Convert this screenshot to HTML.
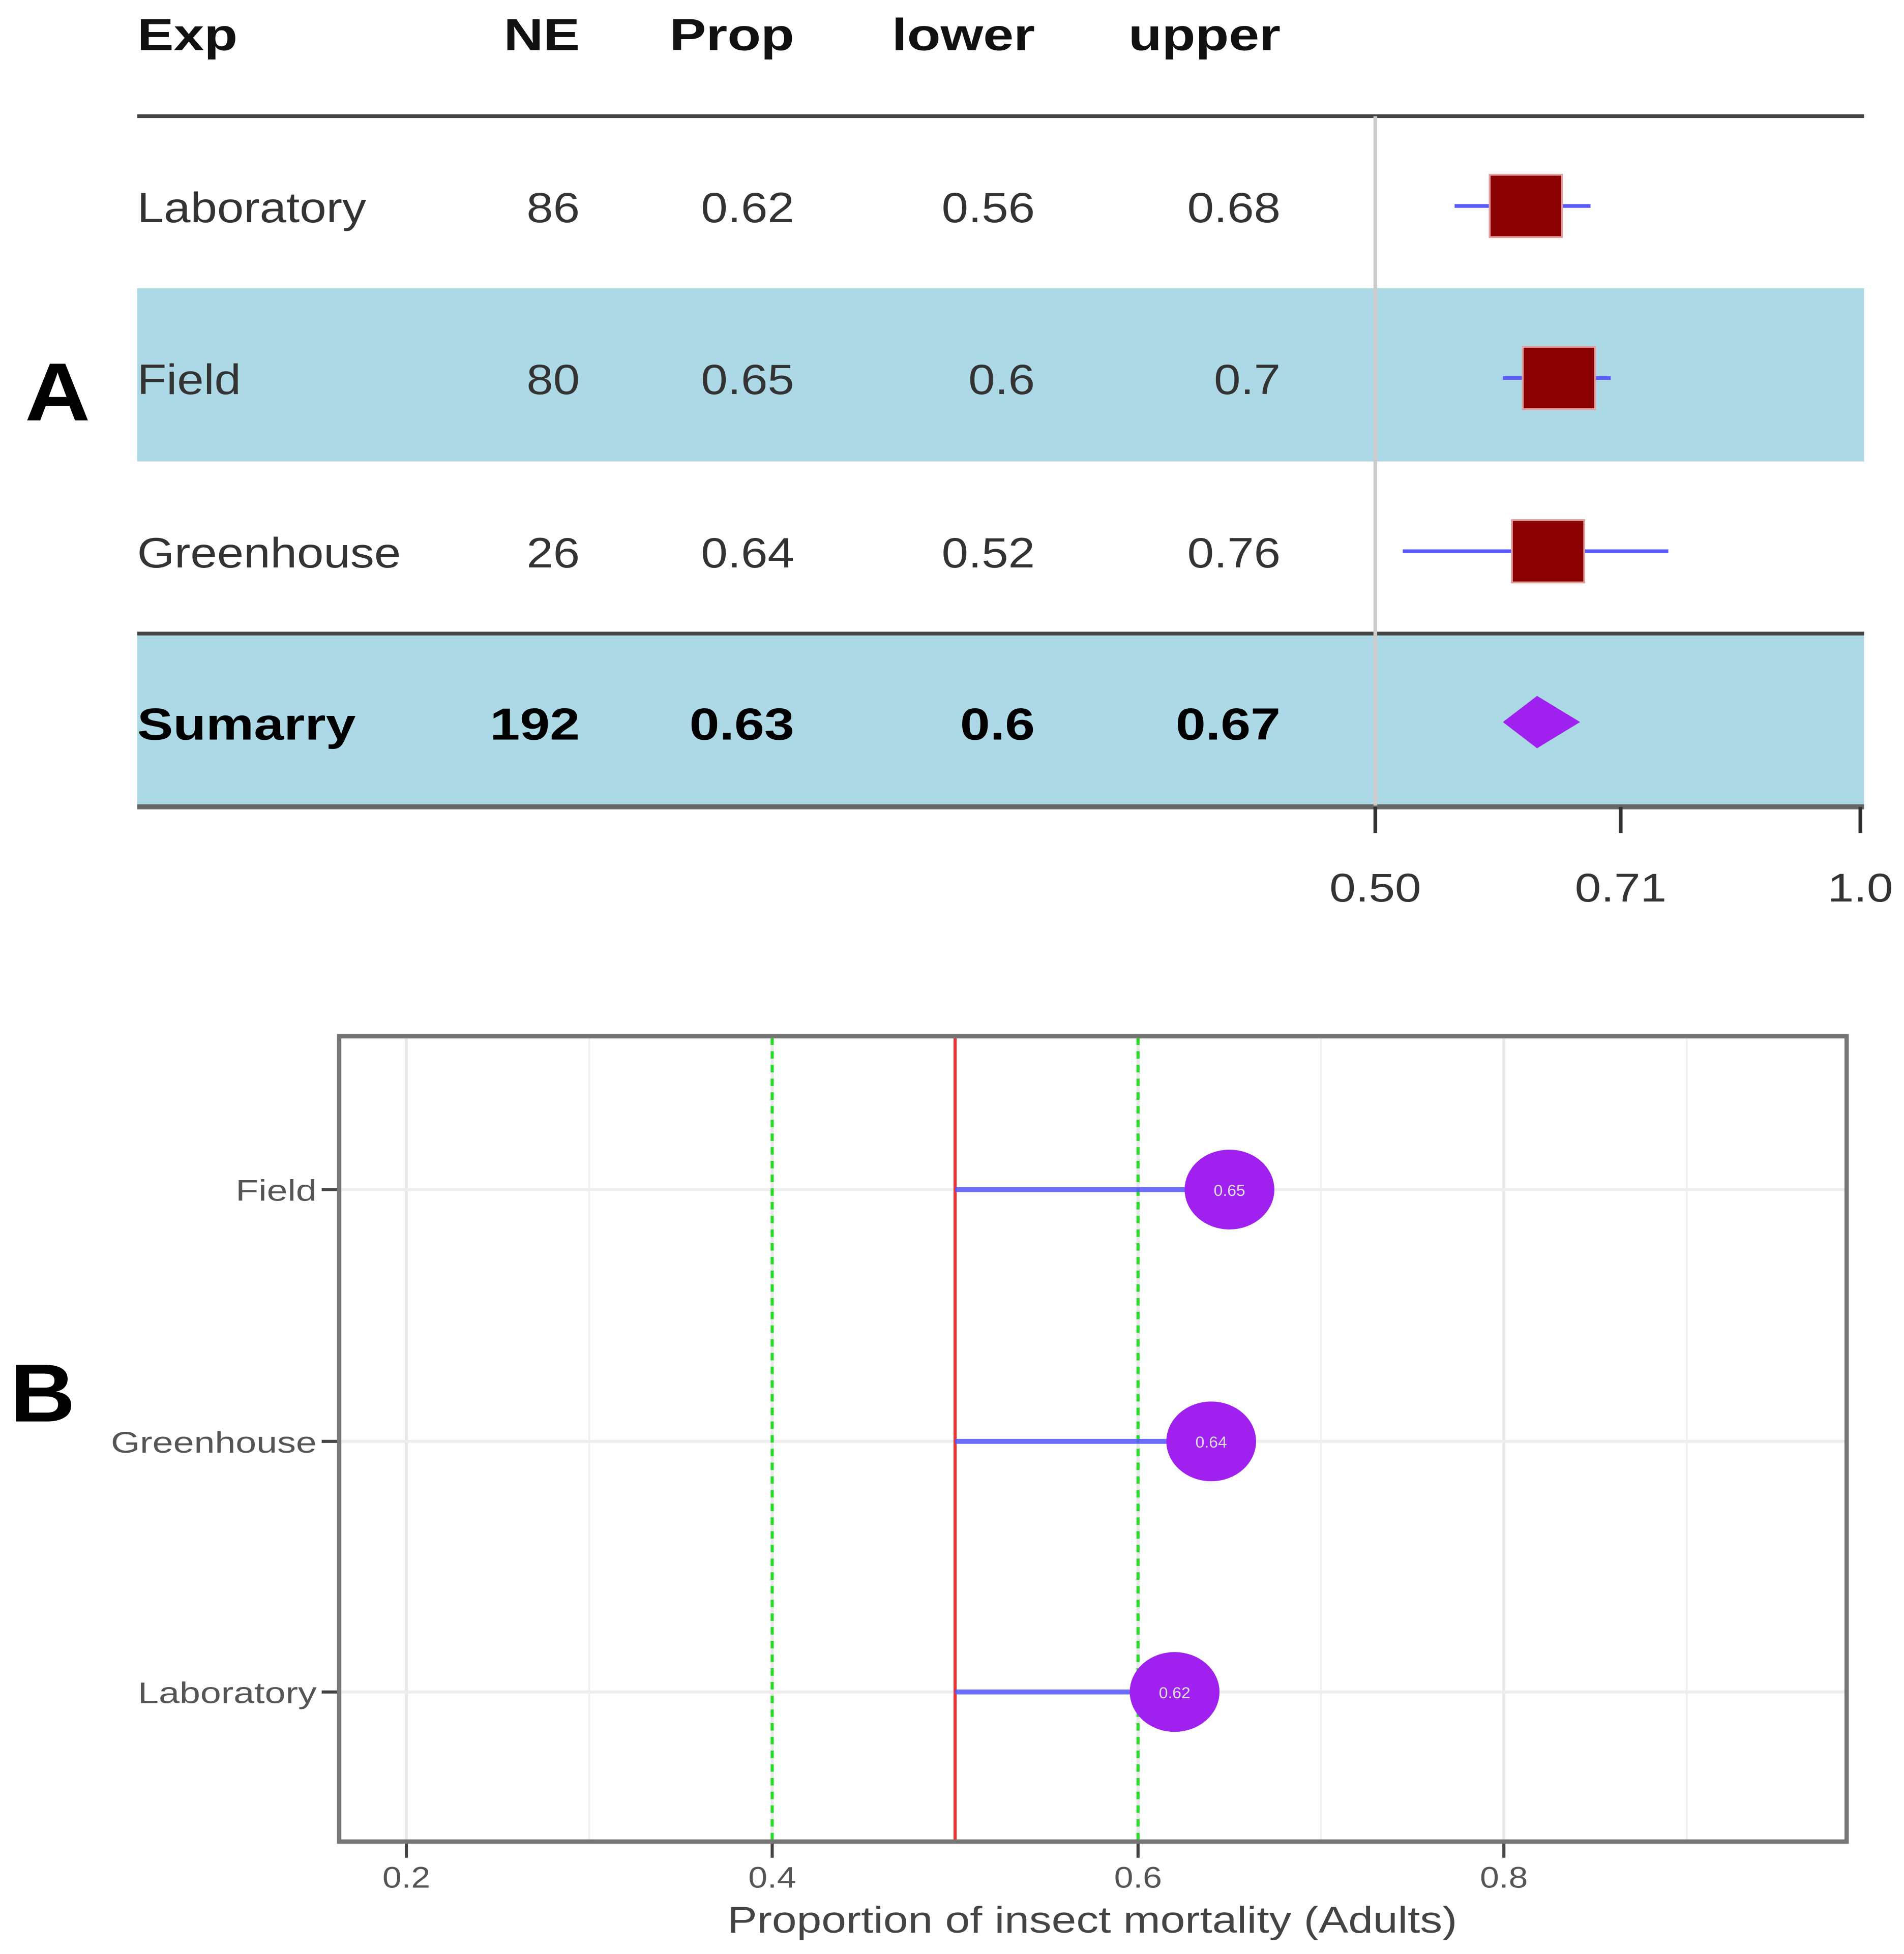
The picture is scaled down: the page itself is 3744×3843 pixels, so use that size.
<!DOCTYPE html>
<html><head><meta charset="utf-8">
<style>
html,body{margin:0;padding:0;background:#fff;}
svg{display:block;}
text{font-family:"Liberation Sans",Arial,sans-serif;}
</style></head>
<body>
<svg id="fig" width="3744" height="3843" viewBox="0 0 1527 1567" xmlns="http://www.w3.org/2000/svg">
<rect width="1527" height="1567" fill="#fff"/>
<g id="panelA"></g>
<g id="panelB"></g>
</svg>
<script>
const NS="http://www.w3.org/2000/svg";
// ---- Panel A data ----
const expNames=["Laboratory","Field","Greenhouse"];
const expNE=[86,80,26];
const expProp=[0.62,0.65,0.64];
const expLower=[0.56,0.6,0.52];
const expUpper=[0.68,0.7,0.76];
const sumLabel="Sumarry";
const sumNE=192, sumProp=0.63, sumLower=0.6, sumUpper=0.67;
const forestTicks=[0.5,0.71,1.0];
const forestTickLabels=["0.50","0.71","1.0"];
// ---- Panel B data ----
const bCategories=["Field","Greenhouse","Laboratory"];
const bValues=[0.65,0.64,0.62];
const bValueLabels=["0.65","0.64","0.62"];
const bXTicks=[0.2,0.4,0.6,0.8];
const bMinor=[0.3,0.5,0.7,0.9];
const bRef=0.5;
const bDashed=[0.4,0.6];

function el(parent,tag,attrs,txt){const e=document.createElementNS(NS,tag);for(const k in attrs)e.setAttribute(k,attrs[k]);if(txt!==undefined)e.textContent=txt;parent.appendChild(e);return e;}
function stretch(e,f){const w=e.getComputedTextLength();if(w>0){e.setAttribute('textLength',(w*f).toFixed(1));e.setAttribute('lengthAdjust','spacingAndGlyphs');}}

// Panel A
const A=document.getElementById('panelA');
const fx=v=>1103+(Math.log(v)-Math.log(0.5))/(0-Math.log(0.5))*389;
const rowY=[165,303,442];
let t;
t=el(A,'text',{x:20,y:337,'font-size':66,'font-weight':'bold',fill:'#000'},'A');

stretch(t,1.1);
let r=el(A,'rect',{x:110,y:231,width:1385,height:139,fill:'#add8e6'});

r=el(A,'rect',{x:110,y:509,width:1385,height:137,fill:'#add8e6'});

const hdr=[["Exp",110,"start"],["NE",465,"end"],["Prop",637,"end"],["lower",830,"end"],["upper",1027,"end"]];
hdr.forEach(h=>{const e=el(A,'text',{x:h[1],y:40,'font-size':36,'font-weight':'bold',fill:'#111','text-anchor':h[2]},h[0]);
stretch(e,1.22);});
let l=el(A,'line',{x1:110,x2:1495,y1:93,y2:93,stroke:'#444','stroke-width':3});

l=el(A,'line',{x1:110,x2:1495,y1:508,y2:508,stroke:'#444','stroke-width':3});

l=el(A,'line',{x1:110,x2:1495,y1:647,y2:647,stroke:'#666','stroke-width':4});

l=el(A,'line',{x1:1103,x2:1103,y1:93,y2:646,stroke:'#ccc','stroke-width':3});

expNames.forEach((n,i)=>{
 const y=rowY[i]+13;
 const cells=[[n,110,'start'],[String(expNE[i]),465,'end'],[String(expProp[i]),637,'end'],[String(expLower[i]),830,'end'],[String(expUpper[i]),1027,'end']];
 cells.forEach((c,j)=>{const e=el(A,'text',{x:c[1],y:y,'font-size':34,fill:'#333','text-anchor':c[2]},c[0]);
 stretch(e,1.13);});
 const ci=el(A,'line',{x1:fx(expLower[i]),x2:fx(expUpper[i]),y1:rowY[i],y2:rowY[i],stroke:'#5a5aff','stroke-width':3});
 
 const b=el(A,'rect',{x:fx(expProp[i])-29,y:rowY[i]-25,width:58,height:50,fill:'#8b0000',stroke:'#e0a0a0','stroke-width':1.5});
 
});
const sc=[[sumLabel,110,'start'],[String(sumNE),465,'end'],[String(sumProp),637,'end'],[String(sumLower),830,'end'],[String(sumUpper),1027,'end']];
sc.forEach((c,j)=>{const e=el(A,'text',{x:c[1],y:593,'font-size':36,'font-weight':'bold',fill:'#000','text-anchor':c[2]},c[0]);
stretch(e,1.2);});
const dm=el(A,'polygon',{points:`${fx(sumLower)},579 ${fx(sumProp)},558 ${fx(sumUpper)},579 ${fx(sumProp)},600`,fill:'#a020f0'});

forestTicks.forEach((v,i)=>{
 const tk=el(A,'line',{x1:fx(v),x2:fx(v),y1:647,y2:668,stroke:'#333','stroke-width':3});
 
 const tl=el(A,'text',{x:fx(v),y:723,'font-size':32,fill:'#333','text-anchor':'middle'},forestTickLabels[i]);
 stretch(tl,1.18);
});

// Panel B
const B=document.getElementById('panelB');
const bx=v=>32.5+v*1467;
const by=[954,1156,1357];
t=el(B,'text',{x:8,y:1140,'font-size':66,'font-weight':'bold',fill:'#000'},'B');

stretch(t,1.1);
bMinor.forEach(v=>{const g=el(B,'line',{x1:bx(v),x2:bx(v),y1:832,y2:1476,stroke:'#f0f0f0','stroke-width':1.5});
});
bXTicks.forEach(v=>{const g=el(B,'line',{x1:bx(v),x2:bx(v),y1:832,y2:1476,stroke:'#e8e8e8','stroke-width':2.5});
});
by.forEach(y=>{const g=el(B,'line',{x1:273,x2:1480,y1:y,y2:y,stroke:'#eeeeee','stroke-width':2.5});
});
bDashed.forEach(v=>{const g=el(B,'line',{x1:bx(v),x2:bx(v),y1:832,y2:1476,stroke:'#22dd22','stroke-width':2.5,'stroke-dasharray':'6,5'});
});
l=el(B,'line',{x1:bx(bRef),x2:bx(bRef),y1:832,y2:1476,stroke:'#ee3333','stroke-width':2.5});

bCategories.forEach((c,i)=>{
 const s=el(B,'line',{x1:bx(bRef),x2:bx(bValues[i]),y1:by[i],y2:by[i],stroke:'#5555ff','stroke-width':4,'stroke-opacity':0.85});
 
 const p=el(B,'ellipse',{cx:bx(bValues[i]),cy:by[i],rx:36,ry:32,fill:'#a020f0'});
 
 const pl=el(B,'text',{x:bx(bValues[i]),y:by[i]+5,'font-size':13,fill:'#ddd','text-anchor':'middle'},bValueLabels[i]);
 
 const tk=el(B,'line',{x1:258,x2:272,y1:by[i],y2:by[i],stroke:'#444','stroke-width':2.5});
 
 const tl=el(B,'text',{x:254,y:by[i]+9,'font-size':24,fill:'#555','text-anchor':'end'},c);
 stretch(tl,1.25);
});
bXTicks.forEach(v=>{
 const tk=el(B,'line',{x1:bx(v),x2:bx(v),y1:1477,y2:1490,stroke:'#444','stroke-width':2.5});
 
 const tl=el(B,'text',{x:bx(v),y:1514,'font-size':24,fill:'#555','text-anchor':'middle'},v.toFixed(1));
 stretch(tl,1.15);
});
r=el(B,'rect',{x:272,y:831,width:1209,height:646,fill:'none',stroke:'#777','stroke-width':3.5});

t=el(B,'text',{x:876,y:1550,'font-size':30,fill:'#444','text-anchor':'middle'},'Proportion of insect mortality (Adults)');
stretch(t,1.19);
</script>
</body></html>
